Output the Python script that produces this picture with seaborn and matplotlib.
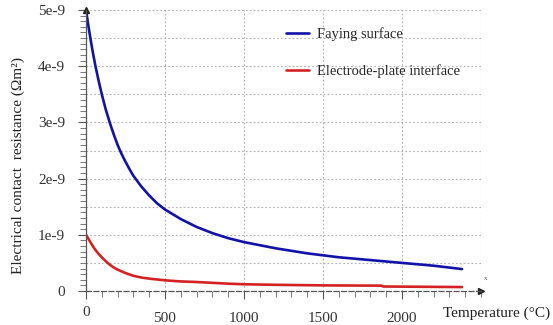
import numpy as np
import pandas as pd
import matplotlib
matplotlib.use("Agg")
import matplotlib.pyplot as plt
import seaborn as sns
from matplotlib.ticker import MultipleLocator

# ---- data ----
faying_T = [0, 15, 30, 45, 60, 80, 100, 125, 150, 175, 200, 225, 250, 275, 300,
            350, 400, 450, 500, 600, 700, 800, 900, 1000, 1200, 1400, 1600,
            1800, 2000, 2200, 2380]
faying_R = [5.0e-9, 4.72e-9, 4.46e-9, 4.22e-9, 4.0e-9, 3.74e-9, 3.5e-9,
            3.23e-9, 3.0e-9, 2.79e-9, 2.6e-9, 2.44e-9, 2.3e-9, 2.17e-9,
            2.05e-9, 1.86e-9, 1.7e-9, 1.56e-9, 1.45e-9, 1.28e-9, 1.14e-9,
            1.03e-9, 0.94e-9, 0.87e-9, 0.76e-9, 0.67e-9, 0.6e-9, 0.55e-9,
            0.5e-9, 0.45e-9, 0.39e-9]
electrode_T = [0, 15, 30, 45, 60, 80, 100, 125, 150, 175, 200, 250, 300, 350,
               400, 500, 600, 700, 800, 900, 1000, 1200, 1500, 1870, 1880, 2380]
electrode_R = [1.0e-9, 0.93e-9, 0.86e-9, 0.79e-9, 0.73e-9, 0.66e-9, 0.6e-9,
               0.53e-9, 0.47e-9, 0.42e-9, 0.38e-9, 0.32e-9, 0.27e-9, 0.24e-9,
               0.22e-9, 0.19e-9, 0.17e-9, 0.16e-9, 0.145e-9, 0.13e-9, 0.12e-9,
               0.11e-9, 0.1e-9, 0.095e-9, 0.08e-9, 0.07e-9]
series_names = ["Faying surface", "Electrode-plate interface"]
series_colors = ["#1212a8", "#d42222"]

x_ticks = [0, 500, 1000, 1500, 2000]
x_tick_labels = ["0", "500", "1000", "1500", "2000"]
y_ticks = [0, 1e-9, 2e-9, 3e-9, 4e-9, 5e-9]
y_tick_labels = ["0", "1e-9", "2e-9", "3e-9", "4e-9", "5e-9"]

df = pd.concat([
    pd.DataFrame({"T": faying_T, "R": faying_R, "series": series_names[0]}),
    pd.DataFrame({"T": electrode_T, "R": electrode_R, "series": series_names[1]}),
])

sns.set_style("white")
plt.rcParams["font.family"] = ["Liberation Serif", "DejaVu Serif"]

fig = plt.figure(figsize=(5.53, 3.25), dpi=100)
ax = fig.add_axes([86 / 553, 1 - 291 / 325, (481 - 86) / 553, (291 - 10) / 325])

sns.lineplot(data=df, x="T", y="R", hue="series", palette=series_colors,
             hue_order=series_names, linewidth=1.9, ax=ax, sort=False,
             estimator=None)

ax.set_xlim(0, 2500)
ax.set_ylim(0, 5e-9)

# grid
for gx in np.arange(500, 2501, 500):
    ax.axvline(gx, color="#b0b0b0", lw=0.8, ls=(0, (1.5, 2)), zorder=0)
for gy in np.arange(0.5e-9, 5.01e-9, 0.5e-9):
    ax.axhline(gy, color="#b0b0b0", lw=0.8, ls=(0, (1.5, 2)), zorder=0)

ax.set_xticks(x_ticks, x_tick_labels)
ax.set_yticks(y_ticks, y_tick_labels)
ax.xaxis.set_minor_locator(MultipleLocator(100))
ax.yaxis.set_minor_locator(MultipleLocator(0.1e-9))
ax.tick_params(axis="both", which="both", bottom=True, left=True, top=False,
               right=False)
ax.tick_params(axis="both", which="major", direction="out", length=6, width=0.8,
               color="#555555", labelsize=11, labelcolor="#333333")
ax.tick_params(axis="both", which="minor", direction="out", length=4, width=0.7,
               color="#777777")
ax.tick_params(axis="x", which="major", pad=9)
ax.tick_params(axis="y", which="major", pad=9)
ax.xaxis.get_major_ticks()[0].set_pad(5)

for s in ["top", "right"]:
    ax.spines[s].set_visible(False)
ax.spines["left"].set_color("#555555")
ax.spines["bottom"].set_color("#555555")
ax.spines["left"].set_linewidth(0.9)
ax.spines["bottom"].set_linewidth(0.9)
ax.spines["bottom"].set_linestyle((0, (4, 2)))

# axis arrow heads
ax.plot([1], [0], marker=">", color="#222222", ms=4, transform=ax.transAxes,
        clip_on=False)
ax.plot([0], [1], marker="^", color="#222222", ms=4, transform=ax.transAxes,
        clip_on=False)
ax.text(1.008, 0.04, "x", transform=ax.transAxes, fontsize=5, color="#555555")

ax.set_xlabel("")
ax.set_ylabel("Electrical contact  resistance (\u03a9m\u00b2)", fontsize=11,
              color="#222222")
ax.yaxis.set_label_coords((25 - 86) / 395, (291 - 166) / 281)
fig.text(443 / 553, 1 - 313 / 325, "Temperature (\u00b0C)", fontsize=11,
         color="#222222", va="center", ha="left")

handles, labels = ax.get_legend_handles_labels()
ax.legend(handles, labels, loc="upper left",
          bbox_to_anchor=((286 - 86) / 395, (291 - 27) / 281),
          frameon=False, fontsize=10.5, labelspacing=1.6, handlelength=1.6,
          handletextpad=0.5, borderpad=0, borderaxespad=0)

fig.savefig("out.png", dpi=100)
